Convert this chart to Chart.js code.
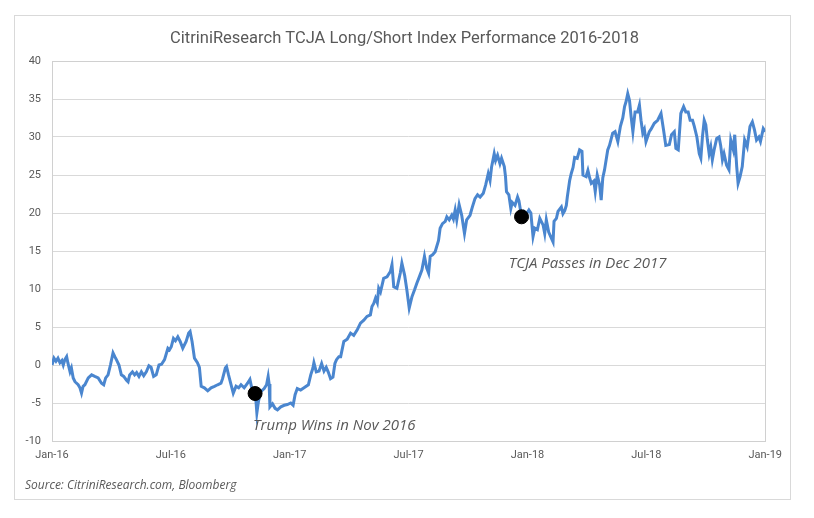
<!DOCTYPE html>
<html><head><meta charset="utf-8">
<script src="https://cdn.jsdelivr.net/npm/chart.js@4/dist/chart.umd.min.js"></script>
<style>
html,body{margin:0;padding:0;background:#fff;}
#frame{position:absolute;left:14px;top:15px;width:777px;height:485px;border:1px solid #d9d9d9;box-sizing:border-box;background:#fff;}
canvas{display:block;}
</style></head><body>
<div id="frame"><canvas id="c" width="775" height="483"></canvas></div>
<script>
// months since Jan 2016
const months = [0.00,0.10,0.20,0.30,0.40,0.50,0.57,0.65,0.74,0.80,0.91,0.98,1.07,1.16,1.32,1.41,1.49,1.57,1.66,1.83,2.00,2.16,2.33,2.50,2.61,2.71,2.83,2.95,3.08,3.17,3.25,3.38,3.50,3.62,3.76,3.84,3.92,4.06,4.17,4.27,4.39,4.51,4.63,4.76,4.89,5.00,5.13,5.26,5.40,5.53,5.68,5.85,5.93,6.02,6.13,6.23,6.35,6.47,6.60,6.77,6.90,6.97,7.07,7.19,7.34,7.44,7.53,7.69,7.86,8.03,8.20,8.36,8.53,8.61,8.75,8.81,8.91,9.04,9.15,9.29,9.42,9.54,9.70,9.87,9.99,10.09,10.21,10.29,10.34,10.42,10.54,10.71,10.83,10.91,10.96,11.00,11.13,11.26,11.38,11.55,11.72,11.88,12.05,12.17,12.27,12.38,12.55,12.72,12.94,13.06,13.17,13.22,13.34,13.48,13.61,13.73,13.84,13.94,14.06,14.18,14.28,14.36,14.48,14.57,14.73,14.90,15.07,15.23,15.40,15.57,15.74,15.90,16.07,16.15,16.24,16.33,16.42,16.49,16.58,16.74,16.91,17.08,17.16,17.25,17.41,17.58,17.66,17.80,17.91,18.03,18.17,18.30,18.42,18.54,18.67,18.80,18.91,19.01,19.09,19.21,19.34,19.51,19.59,19.71,19.85,19.93,20.05,20.18,20.26,20.35,20.43,20.55,20.68,20.82,20.93,21.10,21.22,21.35,21.48,21.61,21.77,21.89,22.02,22.11,22.19,22.32,22.39,22.49,22.61,22.69,22.83,22.89,22.94,23.06,23.16,23.23,23.37,23.50,23.57,23.70,23.83,23.95,24.07,24.17,24.28,24.37,24.50,24.62,24.79,24.87,24.95,25.07,25.17,25.29,25.34,25.46,25.54,25.71,25.79,25.88,25.96,26.01,26.13,26.21,26.30,26.38,26.51,26.63,26.75,26.80,26.96,27.05,27.14,27.22,27.35,27.42,27.52,27.64,27.72,27.80,27.89,28.05,28.14,28.30,28.42,28.56,28.69,28.81,28.90,28.98,29.06,29.15,29.23,29.32,29.43,29.56,29.65,29.73,29.82,29.90,29.98,30.15,30.23,30.40,30.57,30.74,30.87,30.98,31.16,31.27,31.41,31.49,31.61,31.74,31.88,31.99,32.11,32.21,32.33,32.42,32.55,32.67,32.75,32.83,32.92,33.00,33.08,33.17,33.25,33.33,33.42,33.55,33.67,33.75,33.84,33.92,34.05,34.17,34.26,34.39,34.46,34.56,34.63,34.73,34.84,34.96,35.09,35.23,35.35,35.46,35.56,35.68,35.76,35.90,36.00];
const indexValues = [0.0,0.9,0.5,0.9,0.3,0.6,0.0,0.7,1.1,0.3,-0.9,-0.4,-1.7,-2.2,-2.6,-3.0,-3.7,-2.8,-2.6,-1.7,-1.3,-1.5,-1.7,-2.4,-2.6,-1.7,-1.3,0.0,1.6,1.1,0.7,0.0,-1.3,-1.5,-2.0,-2.2,-1.3,-0.9,-1.3,-1.0,-1.5,-0.9,-1.4,-0.9,-0.1,-0.3,-1.5,-1.3,0.0,0.1,0.7,2.2,2.0,2.4,3.5,3.2,3.7,3.1,2.2,3.1,4.2,4.4,3.1,0.9,0.3,-0.3,-2.8,-3.0,-3.4,-3.0,-2.8,-2.6,-2.4,-1.8,-0.4,-0.2,-1.3,-2.6,-3.7,-2.8,-3.0,-2.6,-3.0,-2.4,-1.9,-3.1,-3.6,-4.6,-6.3,-4.8,-3.5,-3.1,-2.6,-1.5,-2.5,-5.5,-5.1,-5.7,-5.9,-5.5,-5.3,-5.2,-5.0,-5.3,-3.9,-3.1,-3.3,-3.0,-2.6,-1.3,-0.4,0.3,-0.9,-0.8,0.2,-0.8,-0.3,-0.9,-1.8,-1.6,0.2,0.7,1.1,1.1,3.1,3.4,4.2,3.9,4.6,5.5,5.9,6.4,6.6,7.7,8.1,8.8,8.2,10.1,9.6,11.4,11.6,12.3,13.2,10.3,10.1,12.1,13.4,11.8,9.9,7.5,9.0,9.9,10.8,11.6,12.5,14.3,12.8,12.1,14.3,14.5,14.9,16.4,18.0,18.6,18.9,19.5,19.1,19.7,19.2,20.4,19.1,21.1,19.7,17.3,19.1,19.7,20.8,21.9,22.4,22.1,22.6,23.7,25.2,24.3,26.1,27.8,26.9,27.6,26.5,27.2,26.1,24.8,22.8,22.4,20.6,21.4,21.0,22.1,21.6,19.5,20.2,19.9,20.4,20.0,16.9,18.0,17.8,19.3,18.4,17.3,19.1,17.5,16.9,16.2,18.9,19.3,20.2,20.8,19.9,20.3,21.0,22.1,24.3,25.2,26.0,27.3,27.2,28.3,28.1,25.0,24.8,25.6,24.6,23.9,24.2,22.8,25.0,23.7,21.7,24.6,25.7,28.3,28.9,30.5,30.7,29.4,31.4,32.5,34.0,34.7,35.7,34.8,32.7,30.7,33.3,33.3,34.2,32.2,30.5,31.0,29.4,30.7,31.0,31.8,32.2,33.1,30.9,28.9,29.0,30.3,30.7,28.5,28.3,33.1,34.0,33.3,33.3,32.2,32.2,31.4,30.0,27.8,27.2,30.0,32.2,31.6,29.6,27.8,28.7,27.0,28.3,29.8,30.0,28.9,27.0,27.8,26.3,25.7,29.6,28.3,30.3,26.1,23.9,24.8,26.1,29.6,28.7,31.4,32.0,30.9,29.6,30.0,29.4,31.1,30.7];
const yTickValues = [-10,-5,0,5,10,15,20,25,30,35,40];
const xTickMonths = [0,6,12,18,24,30,36];
const xTickLabels = ['Jan-16','Jul-16','Jan-17','Jul-17','Jan-18','Jul-18','Jan-19'];
const eventMonths = [10.25,23.7];
const eventValues = [-3.75,19.5];
const eventLabels = ['Trump Wins in Nov 2016','TCJA Passes in Dec 2017'];
const titleText = 'CitriniResearch TCJA Long/Short Index Performance 2016-2018';
const sourceText = 'Source: CitriniResearch.com, Bloomberg';

const GRAY = '#595959';
const FONT = 'Roboto, "Liberation Sans", sans-serif';

const lineData = months.map((m,i)=>({x:m,y:indexValues[i]}));
const eventData = eventMonths.map((m,i)=>({x:m,y:eventValues[i]}));

// label placement offsets (months, value units) relative to each event point
const labelOffsets = [{dx:-0.1, dy:-4.3, align:'left'},{dx:-0.65, dy:-6.2, align:'left'}];

const decor = {
  id:'decor',
  beforeDatasetsDraw(chart){
    const {ctx, chartArea:a} = chart;
    ctx.save();
    ctx.strokeStyle = '#d0d0d0';
    ctx.lineWidth = 1;
    ctx.strokeRect(Math.round(a.left)+0.5, Math.round(a.top)+0.5, Math.round(a.right-a.left), Math.round(a.bottom-a.top));
    ctx.restore();
  },
  afterDraw(chart){
    const {ctx, scales} = chart;
    ctx.save();
    ctx.fillStyle = GRAY;
    ctx.textBaseline = 'middle';
    ctx.textAlign = 'center';
    ctx.font = '16.5px ' + FONT;
    ctx.fillText(titleText, chart.width/2 + 2, 23);
    ctx.font = 'italic 15px "Open Sans", sans-serif';
    eventLabels.forEach((t,i)=>{
      const o = labelOffsets[i];
      ctx.textAlign = o.align;
      ctx.fillText(t, scales.x.getPixelForValue(eventMonths[i]+o.dx), scales.y.getPixelForValue(eventValues[i]+o.dy));
    });
    ctx.font = 'italic 12px "Open Sans", sans-serif';
    ctx.textAlign = 'left';
    ctx.fillText(sourceText, 10, 470);
    ctx.restore();
  }
};

new Chart(document.getElementById('c'), {
  data:{
    datasets:[
      {type:'scatter', label:'Events', data:eventData, pointRadius:7, pointHoverRadius:7, backgroundColor:'#000', borderColor:'#000', order:0},
      {type:'line', label:'Index', data:lineData, borderColor:'#4a86cf', borderWidth:3, pointRadius:0, tension:0, fill:false, order:1}
    ]
  },
  options:{
    responsive:false,
    animation:false,
    layout:{padding:{top:45,left:0,right:22,bottom:28}},
    plugins:{
      legend:{display:false},
      tooltip:{enabled:false},
      title:{display:false}
    },
    scales:{
      x:{type:'linear', min:0, max:36,
        afterBuildTicks(s){ s.ticks = xTickMonths.map(v=>({value:v})); },
        afterFit(s){ s.height = 30; },
        ticks:{color:GRAY, font:{family:FONT,size:11}, padding:8, maxRotation:0, autoSkip:false,
          callback:(v)=>{const i=xTickMonths.indexOf(v); return i>=0?xTickLabels[i]:'';}},
        grid:{display:false, drawTicks:false}, border:{display:false}},
      y:{type:'linear', min:-10, max:40,
        afterBuildTicks(s){ s.ticks = yTickValues.map(v=>({value:v})); },
        afterFit(s){ s.width = 37; },
        ticks:{color:GRAY, font:{family:FONT,size:11}, padding:11},
        grid:{color:'#d9d9d9', drawTicks:false, lineWidth:1}, border:{display:false}}
    }
  },
  plugins:[decor]
});
</script></body></html>
